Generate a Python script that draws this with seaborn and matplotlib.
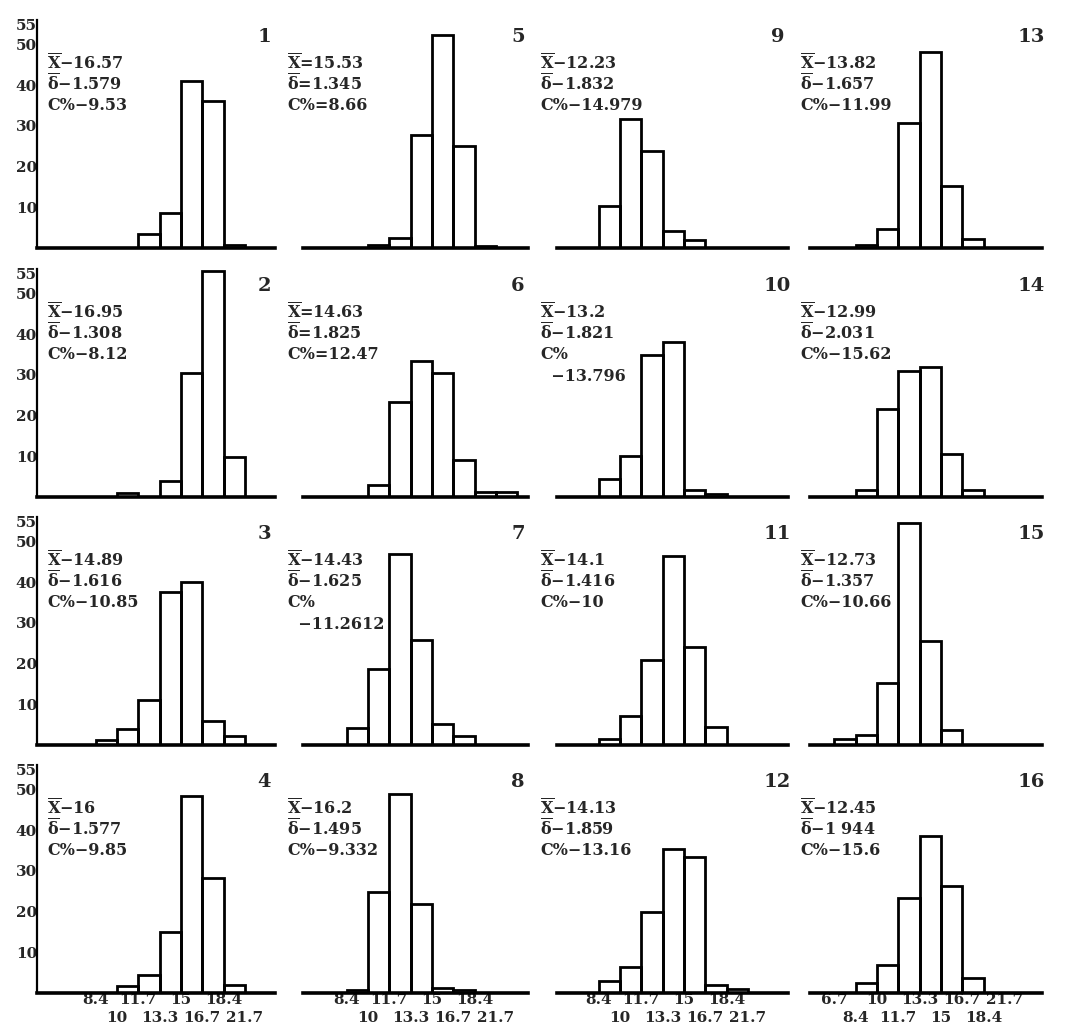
import numpy as np
import pandas as pd
import matplotlib
matplotlib.use("Agg")
import matplotlib.pyplot as plt
import seaborn as sns

# -----------------------------------------------------
# data
# panels go down the columns: 1-4, 5-8, 9-12, 13-16
# bins are class intervals, index 0 = class starting at 10
# -----------------------------------------------------
panel_no = list(range(1, 17))
first_bin = [1, 0, -1, 0, 0, 0, -1, -1, -1, -1, -1, -1, -1, -1, -2, -1]
counts = [
    [3.4, 8.5, 41, 36, 0.7],
    [1, 0, 4, 30.5, 55.5, 9.8],
    [1.2, 4, 11, 37.5, 40, 6, 2.3],
    [1.7, 4.4, 15, 48.4, 28.3, 2],
    [0.7, 2.5, 27.7, 52.4, 25, 0.6],
    [2.9, 23.3, 33.4, 30.5, 9.1, 1.2, 1.2],
    [4.2, 18.6, 47, 25.7, 5.2, 2.2],
    [0.8, 24.8, 49, 21.8, 1.3, 0.7],
    [10.4, 31.8, 23.8, 4.1, 2],
    [4.5, 10, 35, 38, 1.8, 0.8],
    [1.5, 7.2, 20.8, 46.5, 24.2, 4.4],
    [3, 6.3, 20, 35.5, 33.5, 2, 1],
    [0.8, 4.7, 30.6, 48.1, 15.3, 2.2],
    [1.8, 21.5, 31, 32, 10.5, 1.8],
    [1.5, 2.5, 15.2, 54.5, 25.6, 3.7],
    [2.5, 7, 23.4, 38.5, 26.2, 3.7],
]
means = ["16.57", "16.95", "14.89", "16", "15.53", "14.63", "14.43", "16.2",
         "12.23", "13.2", "14.1", "14.13", "13.82", "12.99", "12.73", "12.45"]
sigmas = ["1.579", "1.308", "1.616", "1.577", "1.345", "1.825", "1.625", "1.495",
          "1.832", "1.821", "1.416", "1.859", "1.657", "2.031", "1.357", "1 944"]
cvs = ["9.53", "8.12", "10.85", "9.85", "8.66", "12.47", "11.2612", "9.332",
       "14.979", "13.796", "10", "13.16", "11.99", "15.62", "10.66", "15.6"]
signs = ["−", "−", "−", "−", "=", "=", "−", "−", "−", "−", "−", "−", "−", "−", "−", "−"]
split_cv = [7, 10]

edge_pos = [-2, -1, 0, 1, 2, 3, 4, 5, 6]
edge_labels = ["6.7", "8.4", "10", "11.7", "13.3", "15", "16.7", "18.4", "21.7"]
y_ticks = [10, 20, 30, 40, 50, 55]

# -----------------------------------------------------
# style
# -----------------------------------------------------
sns.set_style("white")
plt.rcParams["font.family"] = ["DejaVu Serif"]
plt.rcParams["font.weight"] = "bold"
plt.rcParams["mathtext.fontset"] = "custom"
plt.rcParams["mathtext.rm"] = "DejaVu Serif:bold"
plt.rcParams["mathtext.it"] = "DejaVu Serif:bold"
plt.rcParams["mathtext.bf"] = "DejaVu Serif:bold"

W, H = 1065, 1033
fig = plt.figure(figsize=(W / 100, H / 100), dpi=100)

# layout in pixels: column axis left/right and where bin index 0 starts
col_left = [37, 303, 557, 810]
col_right = [275, 528, 788, 1042]
col_zero = [117, 368, 620, 877]
row_base = [248, 497, 745, 993]
bw = 21.3
px_per_unit = 4.07
ytop = 57
text_px = [47, 287, 540, 800]

for k in range(16):
    c, r = k // 4, k % 4
    h = ytop * px_per_unit
    ax = fig.add_axes([col_left[c] / W, 1 - row_base[r] / H,
                       (col_right[c] - col_left[c]) / W, h / H])
    vals = counts[k]
    start = first_bin[k]
    df = pd.DataFrame({"bin": np.arange(start, start + len(vals)) + 0.5,
                       "n": vals})
    sns.histplot(data=df, x="bin", weights="n", binwidth=1,
                 binrange=(start, start + len(vals)),
                 fill=False, color="black", linewidth=2.0, ax=ax)
    ax.set_xlim((col_left[c] - col_zero[c]) / bw, (col_right[c] - col_zero[c]) / bw)
    ax.set_ylim(0, ytop)
    ax.set_xlabel("")
    ax.set_ylabel("")
    ax.patch.set_alpha(0)
    for s in ["top", "right"]:
        ax.spines[s].set_visible(False)
    ax.spines["bottom"].set_linewidth(2.6)
    ax.spines["bottom"].set_color("black")

    if c == 0:
        ax.spines["left"].set_linewidth(1.6)
        ax.spines["left"].set_color("black")
        ax.spines["left"].set_bounds(0, 56)
        ax.set_yticks(y_ticks)
        ax.set_yticklabels([str(t) for t in y_ticks], fontsize=11, fontweight="bold")
        ax.tick_params(axis="y", length=3, width=1.2, direction="in", pad=0)
    else:
        ax.spines["left"].set_visible(False)
        ax.set_yticks([])

    if r == 3:
        # two staggered rows of class-limit labels
        idx = range(len(edge_pos)) if c == 3 else range(1, len(edge_pos))
        upper = [i for i in idx if (i % 2 == 1) == (c < 3)]
        lower = [i for i in idx if (i % 2 == 1) != (c < 3)]
        ax.set_xticks([edge_pos[i] for i in upper])
        ax.set_xticklabels([edge_labels[i] for i in upper], fontsize=11, fontweight="bold")
        ax.set_xticks([edge_pos[i] for i in lower], minor=True)
        ax.set_xticklabels([edge_labels[i] for i in lower], minor=True,
                           fontsize=11, fontweight="bold")
        ax.tick_params(axis="x", which="major", length=0, pad=0)
        ax.tick_params(axis="x", which="minor", length=0, pad=13)
    else:
        ax.set_xticks([])

    # stats block
    tx = (text_px[c] - col_zero[c]) / bw
    sg = signs[k]
    lines = [r"$\overline{\mathrm{X}}$" + sg + means[k],
             r"$\overline{\delta}$" + sg + sigmas[k]]
    if panel_no[k] in split_cv:
        lines += ["C%", "  −" + cvs[k]]
    else:
        lines += ["C%" + sg + cvs[k]]
    y0 = 45.3
    for j, line in enumerate(lines):
        ax.text(tx, y0 - j * 5.2, line, fontsize=11.5, fontweight="bold",
                ha="left", va="center")

    ax.text(0.955, 0.91, str(panel_no[k]), transform=ax.transAxes,
            fontsize=14, fontweight="bold", ha="center", va="center")

fig.savefig("out.png", dpi=100)
